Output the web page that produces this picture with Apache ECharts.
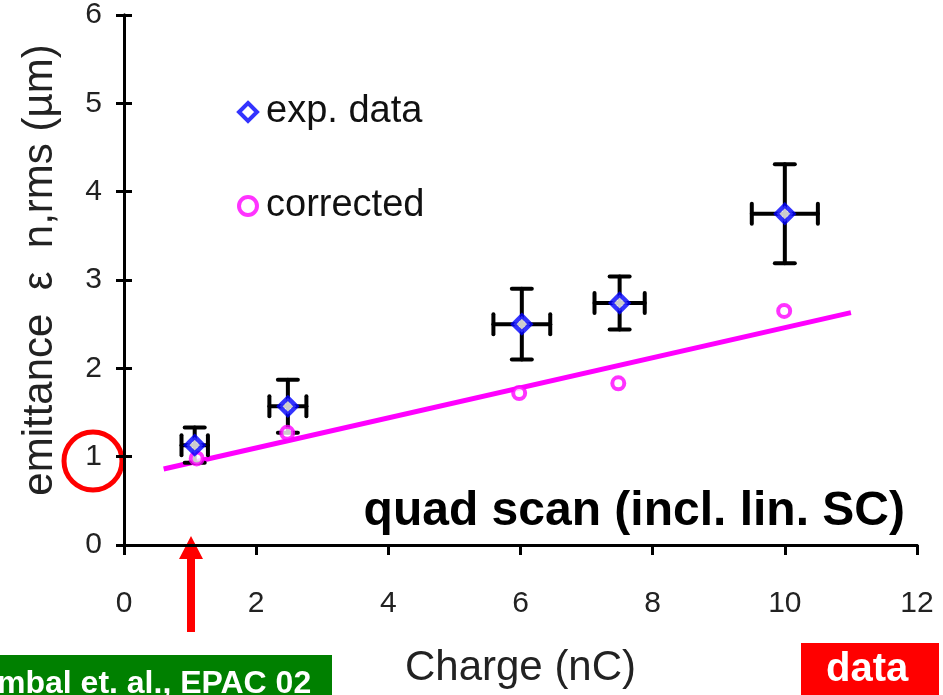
<!DOCTYPE html>
<html>
<head>
<meta charset="utf-8">
<script src="https://cdn.jsdelivr.net/npm/echarts@6/dist/echarts.min.js"></script>
<style>
html, body { margin: 0; padding: 0; background: #fff; }
#main { width: 943px; height: 695px; }
</style>
</head>
<body>
<div id="main"></div>
<script>
// 数据：电荷 (nC) 与发射度 (µm)
var expCharge = [1.07, 2.48, 6.02, 7.5, 10.0];
var expEmit = [1.13, 1.57, 2.5, 2.74, 3.75];
var expChargeErr = [0.2, 0.28, 0.43, 0.38, 0.5];
var expEmitErr = [0.2, 0.3, 0.4, 0.3, 0.56];

var corrCharge = [1.1, 2.47, 5.98, 7.48, 9.99];
var corrEmit = [0.98, 1.27, 1.72, 1.83, 2.65];

var fitCharge = [0.6, 11.0];
var fitEmit = [0.86, 2.63];

var xTicks = [0, 2, 4, 6, 8, 10, 12];
var yTicks = [0, 1, 2, 3, 4, 5, 6];

var font = 'Liberation Sans, Arial, sans-serif';

var myChart = echarts.init(document.getElementById('main'));

var expPoints = expCharge.map(function (x, i) { return [x, expEmit[i]]; });
var errPoints = expCharge.map(function (x, i) {
    return [x, expEmit[i], expChargeErr[i], expEmitErr[i]];
});
var corrPoints = corrCharge.map(function (x, i) { return [x, corrEmit[i]]; });
var fitPoints = fitCharge.map(function (x, i) { return [x, fitEmit[i]]; });

// 误差棒
function renderErr(params, api) {
    var x = api.value(0), y = api.value(1), dx = api.value(2), dy = api.value(3);
    var c = api.coord([x, y]);
    var l = api.coord([x - dx, y]), r = api.coord([x + dx, y]);
    var t = api.coord([x, y + dy]), b = api.coord([x, y - dy]);
    var cap = 10;
    var st = {stroke: '#000', lineWidth: 4, lineCap: 'round'};
    function seg(x1, y1, x2, y2) {
        return {type: 'line', shape: {x1: x1, y1: y1, x2: x2, y2: y2}, style: st};
    }
    return {
        type: 'group',
        children: [
            seg(l[0], c[1], r[0], c[1]),
            seg(c[0], t[1], c[0], b[1]),
            seg(l[0], c[1] - cap, l[0], c[1] + cap),
            seg(r[0], c[1] - cap, r[0], c[1] + cap),
            seg(c[0] - cap, t[1], c[0] + cap, t[1]),
            seg(c[0] - cap, b[1], c[0] + cap, b[1])
        ]
    };
}

var axisLine = {lineStyle: {color: '#000', width: 3}};

var option = {
    animation: false,
    grid: {left: 124, top: 15, right: 26, bottom: 150},
    legend: {
        orient: 'vertical',
        left: 232,
        top: 88,
        itemGap: 56,
        itemWidth: 18,
        itemHeight: 18,
        data: [
            {name: 'exp. data', itemStyle: {color: '#fff', borderColor: '#0000ff', borderWidth: 4}},
            {name: 'corrected', itemStyle: {color: '#fff', borderColor: '#ff00ff', borderWidth: 4}}
        ],
        textStyle: {fontFamily: font, fontSize: 38, color: '#111', padding: [0, 0, 0, 4]}
    },
    xAxis: [{
        type: 'value',
        min: 0, max: 12, interval: 2,
        axisLine: axisLine,
        axisTick: {show: true, inside: false, length: 10, lineStyle: {width: 3, color: '#000'}},
        axisLabel: {margin: 44, fontFamily: font, fontSize: 30, color: '#222',
            formatter: function (v) { return xTicks.indexOf(v) >= 0 ? String(v) : ''; }},
        splitLine: {show: false},
        name: 'Charge (nC)',
        nameLocation: 'middle',
        nameGap: 102,
        nameTextStyle: {fontFamily: font, fontSize: 42, color: '#222'}
    }, {
        type: 'value', position: 'top',
        min: 0, max: 12, interval: 2,
        axisLine: axisLine, axisTick: {show: false}, axisLabel: {show: false},
        splitLine: {show: false}
    }],
    yAxis: [{
        type: 'value',
        min: 0, max: 6, interval: 1,
        axisLine: axisLine,
        axisTick: {show: true, inside: true, length: 8, lineStyle: {width: 3, color: '#000'}},
        axisLabel: {margin: 22, fontFamily: font, fontSize: 30, color: '#222',
            formatter: function (v) { return yTicks.indexOf(v) >= 0 ? String(v) : ''; }},
        splitLine: {show: false}
    }, {
        type: 'value', position: 'right',
        min: 0, max: 6, interval: 1,
        axisLine: axisLine,
        axisTick: {show: true, inside: true, length: 8, lineStyle: {width: 3, color: '#000'}},
        axisLabel: {show: false},
        splitLine: {show: false}
    }],
    series: [
        {
            name: 'fit',
            type: 'line',
            data: fitPoints,
            symbol: 'none',
            lineStyle: {color: '#ff00ff', width: 5},
            z: 2
        },
        {
            name: 'err',
            type: 'custom',
            renderItem: renderErr,
            data: errPoints,
            z: 3
        },
        {
            name: 'corrected',
            type: 'scatter',
            data: corrPoints,
            symbol: 'circle',
            symbolSize: 12,
            itemStyle: {color: '#fff', borderColor: '#ff00ff', borderWidth: 4},
            z: 4
        },
        {
            name: 'exp. data',
            type: 'scatter',
            data: expPoints,
            symbol: 'diamond',
            symbolSize: 17,
            itemStyle: {color: '#fff', borderColor: '#0000ff', borderWidth: 4.5},
            z: 5
        }
    ],
    graphic: [
        {
            type: 'text', x: 40, y: 270, rotation: Math.PI / 2,
            style: {text: 'emittance  ε  n,rms (µm)', font: '42px ' + font, fill: '#222',
                textAlign: 'center', textVerticalAlign: 'middle'}
        },
        {
            type: 'text', right: 38, top: 488,
            style: {text: 'quad scan (incl. lin. SC)', font: 'bold 48px ' + font, fill: '#000'}
        },
        {
            type: 'circle', shape: {cx: 93, cy: 461, r: 29},
            style: {fill: 'none', stroke: '#ff0000', lineWidth: 5}
        },
        {
            type: 'polygon',
            shape: {points: [[191, 536], [179, 559], [187, 559], [187, 632], [195, 632], [195, 559], [203, 559]]},
            style: {fill: '#ff0000'}
        },
        {
            type: 'rect', shape: {x: 0, y: 655, width: 332, height: 40},
            style: {fill: '#008000'}
        },
        {
            type: 'text', left: -3, top: 668,
            style: {text: 'mbal et. al., EPAC 02', font: 'bold 32px ' + font, fill: '#fff'}
        },
        {
            type: 'rect', shape: {x: 801, y: 643, width: 138, height: 52},
            style: {fill: '#ff0000'}
        },
        {
            type: 'text', left: 826, top: 650,
            style: {text: 'data', font: 'bold 40px ' + font, fill: '#fff'}
        }
    ]
};

myChart.setOption(option);
</script>
</body>
</html>
